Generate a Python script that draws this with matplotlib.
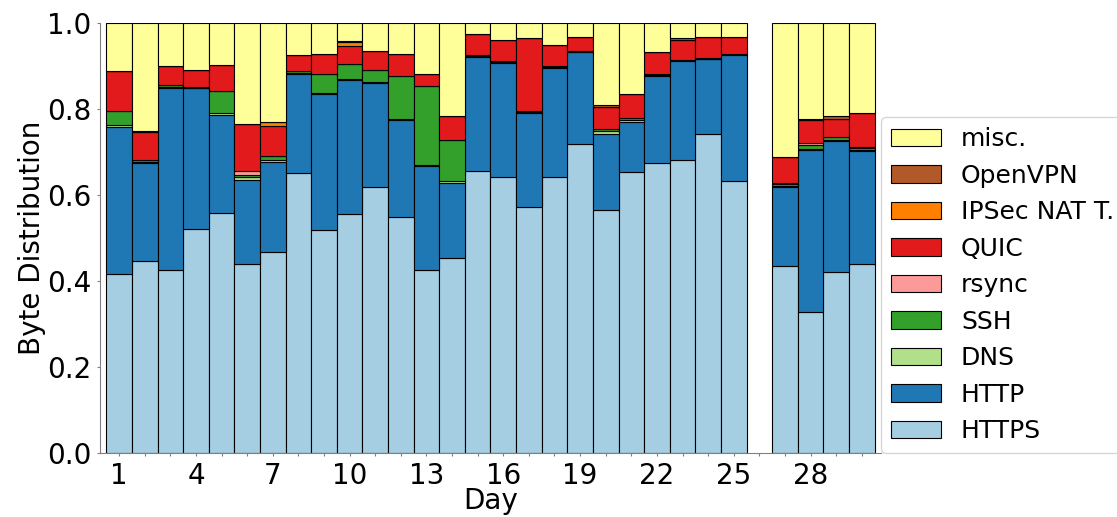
import numpy as np
import matplotlib
matplotlib.use("Agg")
import matplotlib.pyplot as plt

# days shown (day 26 is missing)
days = [1, 2, 3, 4, 5, 6, 7, 8, 9, 10, 11, 12, 13, 14, 15, 16, 17, 18, 19, 20,
        21, 22, 23, 24, 25, 27, 28, 29, 30]

# byte share per protocol and day
https = [0.417, 0.448, 0.426, 0.522, 0.558, 0.439, 0.467, 0.651, 0.519, 0.557,
         0.620, 0.550, 0.425, 0.453, 0.655, 0.642, 0.572, 0.643, 0.719, 0.566,
         0.653, 0.674, 0.681, 0.743, 0.633, 0.436, 0.328, 0.422, 0.439]
http = [0.341, 0.226, 0.424, 0.326, 0.228, 0.197, 0.210, 0.231, 0.317, 0.311,
        0.241, 0.225, 0.242, 0.176, 0.266, 0.265, 0.220, 0.252, 0.213, 0.177,
        0.116, 0.204, 0.231, 0.173, 0.293, 0.182, 0.377, 0.304, 0.263]
dns = [0.005, 0.003, 0.002, 0.002, 0.004, 0.005, 0.005, 0.002, 0.002, 0.002,
       0.002, 0.003, 0.002, 0.003, 0.002, 0.002, 0.002, 0.002, 0.001, 0.006,
       0.005, 0.001, 0.001, 0.001, 0.001, 0.003, 0.002, 0.002, 0.002]
ssh = [0.032, 0.004, 0.003, 0.002, 0.053, 0.006, 0.009, 0.004, 0.044, 0.035,
       0.027, 0.100, 0.184, 0.097, 0.003, 0.002, 0.002, 0.002, 0.002, 0.004,
       0.005, 0.002, 0.002, 0.001, 0.002, 0.005, 0.009, 0.008, 0.005]
rsync = [0.0, 0.0, 0.0, 0.0, 0.0, 0.008, 0.0, 0.0, 0.0, 0.0,
         0.0, 0.0, 0.0, 0.0, 0.0, 0.0, 0.0, 0.0, 0.0, 0.0,
         0.0, 0.0, 0.0, 0.0, 0.0, 0.002, 0.006, 0.0, 0.004]
quic = [0.094, 0.065, 0.045, 0.039, 0.060, 0.110, 0.069, 0.038, 0.047, 0.041,
        0.046, 0.049, 0.029, 0.055, 0.048, 0.049, 0.169, 0.049, 0.032, 0.051,
        0.056, 0.052, 0.045, 0.049, 0.038, 0.060, 0.053, 0.042, 0.078]
ipsec = [0.0, 0.0, 0.0, 0.0, 0.0, 0.0, 0.009, 0.0, 0.0, 0.009,
         0.0, 0.0, 0.0, 0.0, 0.0, 0.0, 0.0, 0.0, 0.0, 0.0,
         0.0, 0.0, 0.0, 0.0, 0.0, 0.0, 0.0, 0.0, 0.0]
openvpn = [0.0, 0.004, 0.0, 0.0, 0.0, 0.0, 0.0, 0.0, 0.0, 0.003,
           0.0, 0.0, 0.0, 0.0, 0.0, 0.0, 0.0, 0.0, 0.0, 0.005,
           0.0, 0.0, 0.004, 0.0, 0.0, 0.0, 0.003, 0.006, 0.0]
misc = [0.111, 0.250, 0.100, 0.109, 0.097, 0.235, 0.231, 0.074, 0.071, 0.042,
        0.064, 0.073, 0.118, 0.216, 0.026, 0.040, 0.035, 0.052, 0.033, 0.191,
        0.165, 0.067, 0.036, 0.033, 0.033, 0.312, 0.222, 0.216, 0.209]

labels = ['HTTPS', 'HTTP', 'DNS', 'SSH', 'rsync', 'QUIC', 'IPSec NAT T.', 'OpenVPN', 'misc.']
series = [https, http, dns, ssh, rsync, quic, ipsec, openvpn, misc]
colors = ['#a6cee3', '#1f78b4', '#b2df8a', '#33a02c', '#fb9a99', '#e31a1c',
          '#ff7f00', '#b15928', '#ffff99']

fig = plt.figure(figsize=(11.17, 5.17), dpi=100)
ax = fig.add_axes([0.0895, 0.1232, 0.6992, 0.8323])

bottom = np.zeros(len(days))
handles = []
for vals, lab, col in zip(series, labels, colors):
    b = ax.bar(days, vals, width=1.0, bottom=bottom, color=col, label=lab,
               edgecolor='black', linewidth=0.8)
    handles.append(b)
    bottom += np.array(vals)

ax.set_xlim(0.25, 30.75)
ax.set_ylim(0, 1.0)
ax.set_xticks(range(1, 31))
ax.set_xticklabels([str(d) if (d - 1) % 3 == 0 else '' for d in range(1, 31)])
ax.set_yticks([0.0, 0.2, 0.4, 0.6, 0.8, 1.0])
ax.tick_params(labelsize=20, color='gray', length=2.5)
for s in ['top', 'right']:
    ax.spines[s].set_visible(False)
for s in ['left', 'bottom']:
    ax.spines[s].set_color('gray')
ax.set_ylabel('Byte Distribution', fontsize=20, labelpad=1)
ax.set_xlabel('Day', fontsize=20, labelpad=-2)

ax.legend(handles[::-1], labels[::-1], loc='lower left', bbox_to_anchor=(1.0, 0.0),
          borderaxespad=0.0, fontsize=18)

fig.savefig('out.png', dpi=100)
